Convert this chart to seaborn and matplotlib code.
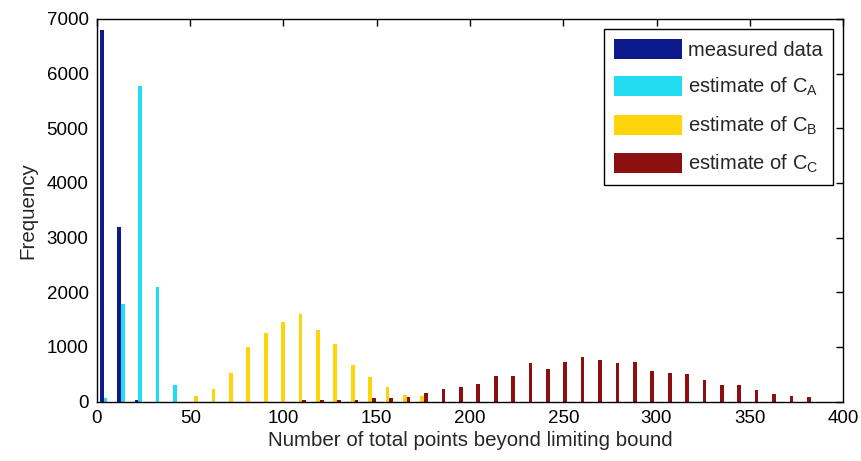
import numpy as np
import pandas as pd
import matplotlib
matplotlib.use("Agg")
import matplotlib.pyplot as plt
import seaborn as sns
from matplotlib.patches import Patch

# bin centres of the histogram (x axis)
centers = [5.5, 14.8, 24.2, 33.5, 42.8, 52.2, 61.5, 70.8, 80.1, 89.5,
           98.8, 108.1, 117.5, 126.8, 136.1, 145.5, 154.8, 164.1, 173.4, 182.8,
           192.1, 201.4, 210.8, 220.1, 229.4, 238.8, 248.1, 257.4, 266.7, 276.1,
           285.4, 294.7, 304.1, 313.4, 322.7, 332.1, 341.4, 350.7, 360.0, 369.4,
           378.7]

measured = [6800, 3200, 25] + [0] * 38
est_a = [60, 1780, 5770, 2100, 310] + [0] * 36
est_b = [0, 0, 0, 0, 0, 110, 225, 525, 1000, 1255,
         1455, 1605, 1310, 1055, 670, 450, 270, 120, 100] + [0] * 22
est_c = [0] * 11 + [20, 20, 20, 25, 60, 65, 90, 150, 235,
                    265, 325, 470, 470, 700, 590, 730, 820, 760, 700,
                    730, 560, 530, 500, 385, 295, 295, 210, 145, 110,
                    85]

labels = ["measured data", "estimate of C$_\\mathregular{A}$",
          "estimate of C$_\\mathregular{B}$", "estimate of C$_\\mathregular{C}$"]
colors = ["#0d1a8e", "#22dcf2", "#ffd40a", "#8c1010"]

df = pd.DataFrame({
    "center": centers * 4,
    "count": measured + est_a + est_b + est_c,
    "series": sum([[lab] * len(centers) for lab in labels], []),
})

sns.set_style("white")
plt.rcParams["font.family"] = ["Liberation Sans", "DejaVu Sans"]
plt.rcParams["mathtext.fontset"] = "custom"
plt.rcParams["mathtext.rm"] = "Liberation Sans"

fig = plt.figure(figsize=(8.62, 4.61), dpi=100)
ax = fig.add_axes([0.1125, 0.129, 0.8655, 0.83])

sns.barplot(data=df, x="center", y="count", hue="series", hue_order=labels,
            palette=colors, native_scale=True, errorbar=None, saturation=1,
            width=0.85, linewidth=0, legend=False, ax=ax)

ax.set_xlim(0, 400)
ax.set_ylim(0, 7000)
ax.set_xticks(np.arange(0, 401, 50))
ax.set_yticks(np.arange(0, 7001, 1000))
ax.tick_params(direction="in", length=5, width=1, top=True, right=True,
               labelsize=13.5, colors="black", pad=6)
for s in ax.spines.values():
    s.set_visible(True)
    s.set_color("black")
    s.set_linewidth(1)

ax.set_xlabel("Number of total points beyond limiting bound", fontsize=14.8, labelpad=3)
ax.set_ylabel("Frequency", fontsize=14.8, labelpad=7)

handles = [Patch(facecolor=c, edgecolor="none") for c in colors]
leg = ax.legend(handles, labels, loc="upper right", fontsize=14.5,
                handlelength=3.4, handleheight=1.15, handletextpad=0.3,
                labelspacing=0.8, borderpad=0.5, borderaxespad=0.5,
                fancybox=False, framealpha=1, edgecolor="black")
leg.get_frame().set_linewidth(1)

fig.savefig("out.png", dpi=100)
